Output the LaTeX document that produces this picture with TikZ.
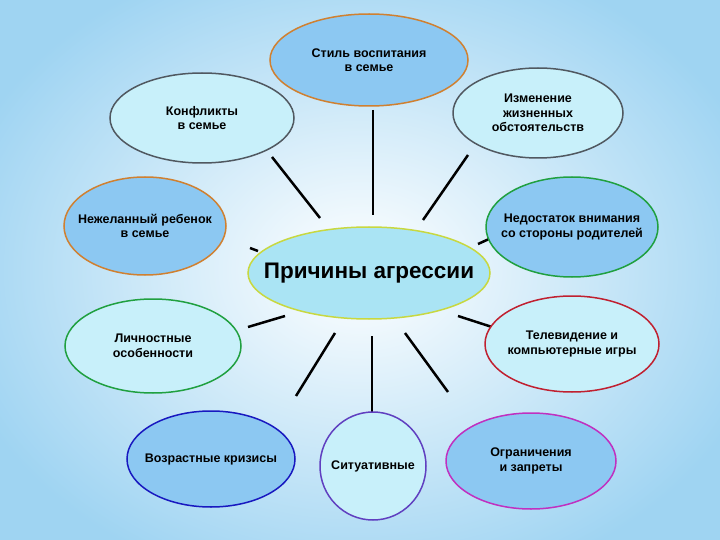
\documentclass[tikz,border=0pt]{standalone}
\usepackage{fontspec}
\setmainfont{Liberation Sans}
\usetikzlibrary{shapes.geometric}
\definecolor{bgout}{HTML}{9FD4F2}
\definecolor{fdark}{HTML}{8CC8F2}
\definecolor{flight}{HTML}{C8F0FA}
\tikzset{
 cause/.style={ellipse,line width=1.5pt,align=center,font=\bfseries\fontsize{12.5}{14.5}\selectfont,inner xsep=-22pt,inner ysep=-6pt},
 link/.style={line width=2.5pt,black}
}
\begin{document}
\begin{tikzpicture}[x=1pt,y=-1pt]
\useasboundingbox (0,0) rectangle (720,540);
\shade[inner color=white,outer color=bgout] (-60,-60) rectangle (780,600);
% connectors
\foreach \a/\b in {{373,110}/{373,215},{468,155}/{423,220},{478,244}/{489,239},{458,316}/{492,327},{405,333}/{448,392},{372,336}/{372,418},{335,333}/{296,396},{248,327}/{285,316},{250,248}/{258,251},{272,157}/{320,218}}
 {\draw[link] (\a) -- (\b);}
\node[cause,draw={rgb,255:red,200;green,216;blue,64},fill={rgb,255:red,170;green,228;blue,244},minimum width=242pt,minimum height=92pt,font=\bfseries\fontsize{22.5}{26}\selectfont,inner xsep=-40pt] (c) at (369,273) {Причины агрессии};
\node[cause,draw={rgb,255:red,208;green,128;blue,48},fill=fdark,minimum width=198pt,minimum height=92pt] (n1) at (369,60) {Стиль воспитания\\в семье};
\node[cause,draw={rgb,255:red,80;green,88;blue,96},fill=flight,minimum width=170pt,minimum height=90pt] (n2) at (538,113) {Изменение\\жизненных\\обстоятельств};
\node[cause,draw={rgb,255:red,32;green,160;blue,64},fill=fdark,minimum width=172pt,minimum height=100pt] (n3) at (572,227) {Недостаток внимания\\со стороны родителей};
\node[cause,draw={rgb,255:red,192;green,32;blue,48},fill=flight,minimum width=174pt,minimum height=96pt] (n4) at (572,344) {Телевидение и\\компьютерные игры};
\node[cause,draw={rgb,255:red,192;green,48;blue,192},fill=fdark,minimum width=170pt,minimum height=96pt] (n5) at (531,461) {Ограничения\\и запреты};
\node[cause,draw={rgb,255:red,96;green,64;blue,192},fill=flight,minimum width=106pt,minimum height=108pt] (n6) at (373,466) {Ситуативные};
\node[cause,draw={rgb,255:red,24;green,24;blue,192},fill=fdark,minimum width=168pt,minimum height=96pt] (n7) at (211,459) {Возрастные кризисы};
\node[cause,draw={rgb,255:red,32;green,160;blue,64},fill=flight,minimum width=176pt,minimum height=94pt] (n8) at (153,346) {Личностные\\особенности};
\node[cause,draw={rgb,255:red,208;green,128;blue,48},fill=fdark,minimum width=162pt,minimum height=98pt] (n9) at (145,226) {Нежеланный ребенок\\в семье};
\node[cause,draw={rgb,255:red,80;green,88;blue,96},fill=flight,minimum width=184pt,minimum height=90pt] (n10) at (202,118) {Конфликты\\в семье};
\end{tikzpicture}
\end{document}
